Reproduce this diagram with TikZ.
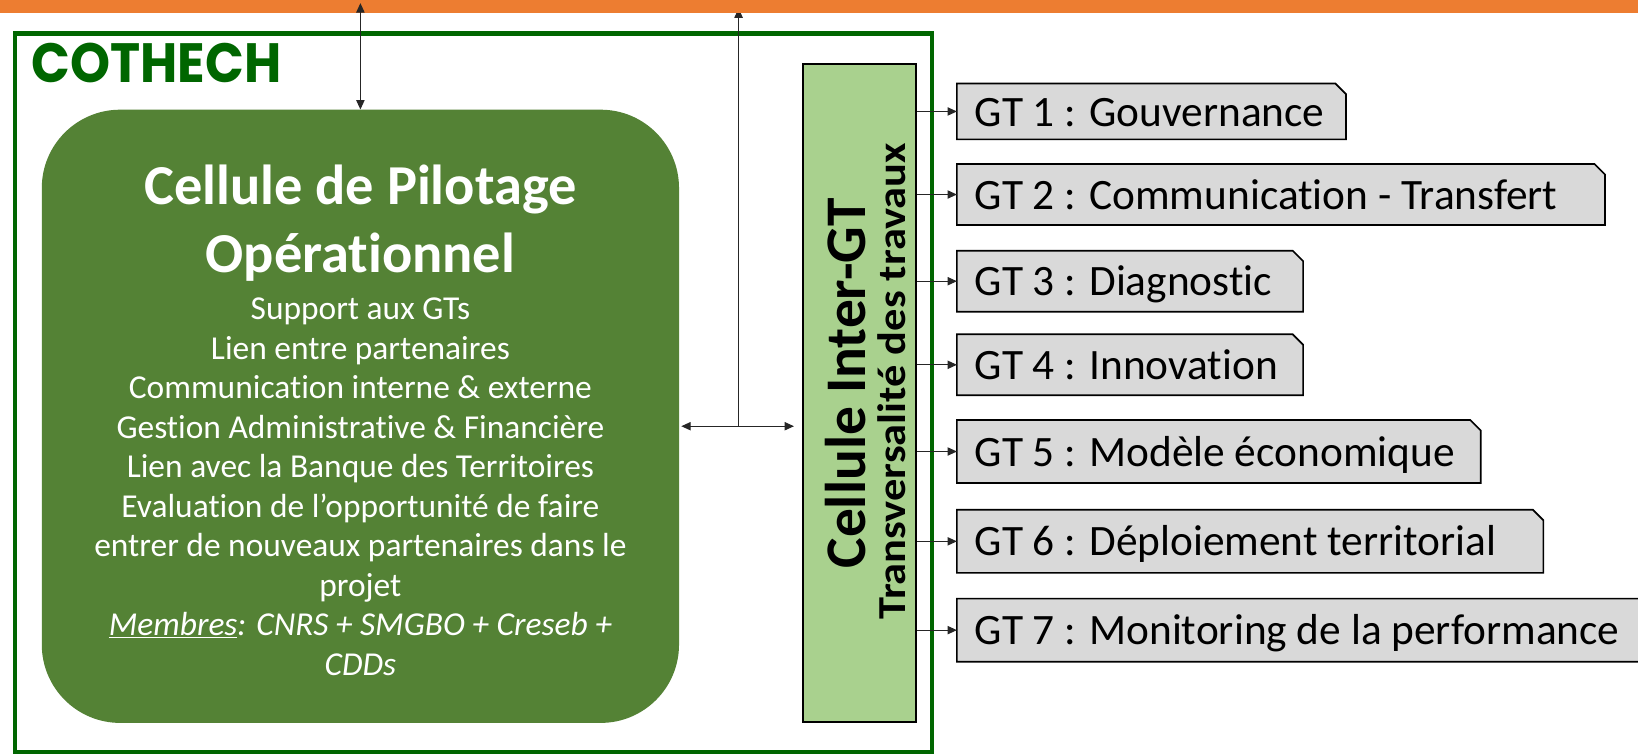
\documentclass[tikz,border=0pt]{standalone}
\usepackage{fontspec}
\setmainfont{Carlito}[Ligatures=NoCommon]
\newfontfamily\cothechfont{Poppins}
\usetikzlibrary{arrows.meta}
\definecolor{orangebar}{HTML}{ED7D31}
\definecolor{pilotgreen}{HTML}{548235}
\definecolor{lightgreen}{HTML}{A9D18E}
\definecolor{gtgray}{HTML}{D9D9D9}
\definecolor{framegreen}{HTML}{006600}
\newcommand\gtshape[1]{\filldraw[gtline] (#1.south west) -- (#1.north west)
  -- ([xshift=-10pt]#1.north east) -- ([yshift=-10pt]#1.north east)
  -- (#1.south east) -- cycle;}
\begin{document}
\begin{tikzpicture}[x=1pt,y=-1pt,
  tipa/.style={-{Triangle[length=9pt,width=8pt]}},
  dbl/.style={{Triangle[length=9pt,width=8pt]}-{Triangle[length=9pt,width=8pt]}},
  conn/.style={draw=black!85, line width=1pt},
  gtline/.style={draw=black, line width=1.6pt, fill=gtgray, line join=miter},
  gtbox/.style={rectangle, anchor=north west, inner sep=0pt},
  gttext/.style={anchor=base west, font=\fontsize{41.5}{48}\selectfont, inner sep=0pt},
]
\useasboundingbox (0,0) rectangle (1568,721);
\fill[white] (0,0) rectangle (1568,721);

% COTHECH frame
\node[draw=framegreen, line width=4pt, minimum width=878pt, minimum height=688pt,
  anchor=north west, inner sep=0pt] (frame) at (12,30) {};
\node[anchor=base west, font=\cothechfont\fontsize{53}{56}\bfseries\selectfont, text=framegreen,
  inner sep=0pt] (cothech) at (30,79) {\scalebox{0.92}[1]{COTHECH}};

% Pilotage cell
\node[fill=pilotgreen, rounded corners=75pt, minimum width=610pt, minimum height=587pt,
  inner sep=0pt] (pilot) at (345,398.5) {};
\node[text=white, align=center, font=\fontsize{54}{65}\bfseries\selectfont] (pilottitle)
  at (345,214) {Cellule de Pilotage\\Opérationnel};
\node[text=white, align=center, font=\fontsize{32}{37.8}\selectfont] (pilotbody)
  at (345,466) {Support aux GTs\\Lien entre partenaires\\Communication interne \& externe\\
  Gestion Administrative \& Financière\\Lien avec la Banque des Territoires\\
  Evaluation de l’opportunité de faire\\entrer de nouveaux partenaires dans le\\projet\\
  \textit{\underline{Membres}: CNRS + SMGBO + Creseb +}\\\textit{CDDs}};

% Inter-GT cell
\node[draw=black, line width=2pt, fill=lightgreen, minimum width=108pt, minimum height=630pt,
  anchor=north west, inner sep=0pt] (inter) at (768,60) {};
\node[rotate=90, font=\fontsize{55}{60}\bfseries\selectfont, inner sep=0pt] (intertitle)
  at (809,367) {Cellule Inter-GT};
\node[rotate=90, font=\fontsize{38}{44}\bfseries\selectfont, inner sep=0pt] (intersub)
  at (854,365) {\scalebox{1.12}[1]{Transversalité des travaux}};

% junction arrows
\coordinate (mid) at (707,408);
\coordinate (uptip) at (707,8);
\draw[conn, tipa] (mid) -- (uptip);
\draw[conn, dbl, shorten <=2pt, shorten >=8pt] (pilot.east |- mid) -- (inter.west |- mid);

% orange bar
\fill[orangebar] (0,0) rectangle (1568,12.5);
\coordinate (toptip) at (345,3);
\draw[conn, dbl] (toptip) -- (pilot.north);

% GT boxes
\node[gtbox, minimum width=372pt, minimum height=53pt] (g1) at (916,80) {};
\node[gtbox, minimum width=620pt, minimum height=58pt] (g2) at (916,157) {};
\node[gtbox, minimum width=331pt, minimum height=58pt] (g3) at (916,240) {};
\node[gtbox, minimum width=331pt, minimum height=58pt] (g4) at (916,320) {};
\node[gtbox, minimum width=501pt, minimum height=60pt] (g5) at (916,402) {};
\node[gtbox, minimum width=561pt, minimum height=60pt] (g6) at (916,488) {};
\node[gtbox, minimum width=700pt, minimum height=60pt] (g7) at (916,573) {};
\foreach \g in {g1,g2,g3,g4,g5,g6,g7} {\gtshape{\g}}

\node[gttext] (t1) at ([xshift=17pt,yshift=-14pt]g1.west) {GT 1 : Gouvernance};
\node[gttext] (t2) at ([xshift=17pt,yshift=-14pt]g2.west) {GT 2 : Communication - Transfert};
\node[gttext] (t3) at ([xshift=17pt,yshift=-14pt]g3.west) {GT 3 : Diagnostic};
\node[gttext] (t4) at ([xshift=17pt,yshift=-14pt]g4.west) {GT 4 : Innovation};
\node[gttext] (t5) at ([xshift=17pt,yshift=-14pt]g5.west) {GT 5 : Modèle économique};
\node[gttext] (t6) at ([xshift=17pt,yshift=-14pt]g6.west) {GT 6 : Déploiement territorial};
\node[gttext] (t7) at ([xshift=17pt,yshift=-14pt]g7.west) {GT 7 : Monitoring de la performance};

\foreach \g in {g1,g2,g3,g4,g5,g6,g7}
  \draw[conn, tipa] (inter.east |- \g.west) -- (\g.west);
\end{tikzpicture}
\end{document}
